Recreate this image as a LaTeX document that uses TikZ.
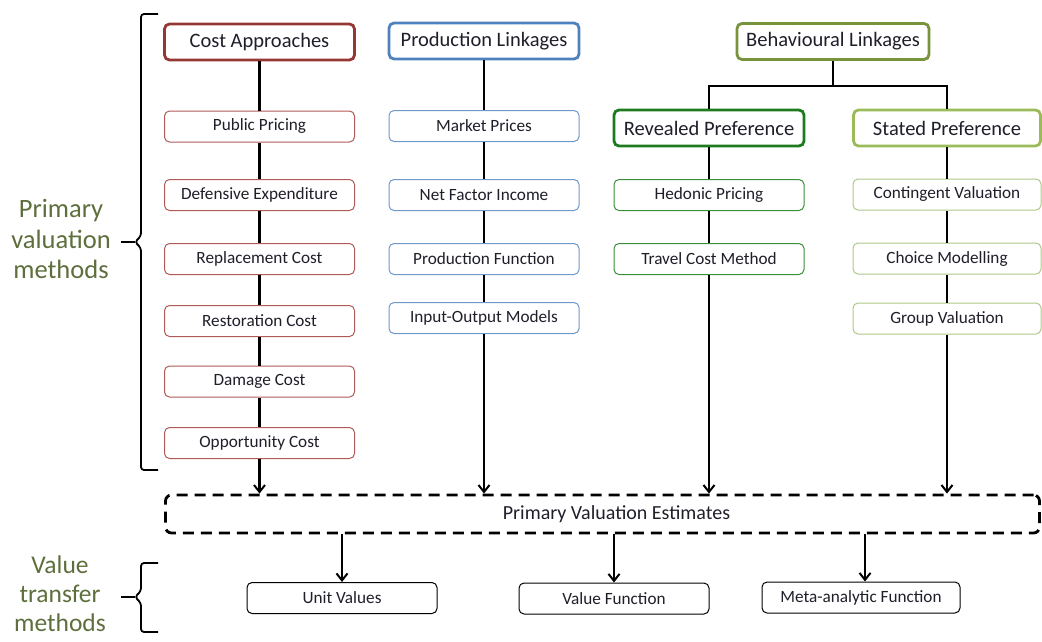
\documentclass[tikz,border=0pt]{standalone}
\usepackage{fontspec}
\setmainfont{Carlito}
\usetikzlibrary{arrows.meta,positioning}
\definecolor{costH}{HTML}{953735}
\definecolor{costS}{HTML}{B25A58}
\definecolor{prodH}{HTML}{4F81BD}
\definecolor{prodS}{HTML}{7098CA}
\definecolor{behH}{HTML}{77933C}
\definecolor{revH}{HTML}{1E7A1E}
\definecolor{revS}{HTML}{3A8F3A}
\definecolor{staH}{HTML}{9BBB59}
\definecolor{staS}{HTML}{AEC889}
\definecolor{txt}{HTML}{1F1F2A}
\definecolor{lbl}{HTML}{5E6E3C}
\tikzset{
  head/.style={draw=#1, line width=2.8pt, rounded corners=5pt, fill=white,
    minimum width=190pt, minimum height=36pt, inner sep=0pt,
    font=\fontsize{20.5}{22}\selectfont, text=txt},
  sub/.style={draw=#1, line width=1pt, rounded corners=5pt, fill=white,
    minimum width=190pt, minimum height=31pt, inner sep=0pt,
    font=\fontsize{17.2}{18}\selectfont, text=txt},
  low/.style={draw=black, line width=1pt, rounded corners=5pt, fill=white,
    minimum width=190pt, minimum height=31pt, inner sep=0pt,
    font=\fontsize{17.2}{18}\selectfont, text=txt},
  conn/.style={line width=2.3pt},
  arr/.style={line width=2.3pt, -{Straight Barb[length=7pt,width=11pt,line width=2pt]}},
  side/.style={text=lbl, align=center, font=\fontsize{26.5}{30.5}\selectfont},
  side2/.style={text=lbl, align=center, font=\fontsize{25.5}{29}\selectfont},
  brace/.style={line width=1.8pt, rounded corners=3pt}
}
\begin{document}
\begin{tikzpicture}[x=1pt,y=-1pt]
\useasboundingbox (0,0) rectangle (1042,641);
% headers
\node[head=costH] (ca) at (259.5,42) {Cost Approaches};
\node[head=prodH] (pl) at (484,41) {Production Linkages};
\node[head=behH, minimum width=192pt] (bl) at (833,41.5) {Behavioural Linkages};
\node[head=revH] (rp) at (709,128) {Revealed Preference};
\node[head=staH, minimum width=187pt] (sp) at (947,128) {Stated Preference};
% cost column
\node[sub=costS] (pp) at (259.5,126.5) {Public Pricing};
\node[sub=costS] (de) at (259.5,195) {Defensive Expenditure};
\node[sub=costS] (rc) at (259.5,259) {Replacement Cost};
\node[sub=costS] (rs) at (259.5,321) {Restoration Cost};
\node[sub=costS] (dc) at (259.5,381.5) {Damage Cost};
\node[sub=costS] (oc) at (259.5,443) {Opportunity Cost};
% production column
\node[sub=prodS] (mp) at (484,126) {Market Prices};
\node[sub=prodS] (nf) at (484,195) {Net Factor Income};
\node[sub=prodS] (pf) at (484,259) {Production Function};
\node[sub=prodS] (io) at (484,318) {Input-Output Models};
% revealed column
\node[sub=revS] (hp) at (709,195) {Hedonic Pricing};
\node[sub=revS] (tc) at (709,259) {Travel Cost Method};
% stated column
\node[sub=staS, minimum width=188pt] (cv) at (947,194.5) {Contingent Valuation};
\node[sub=staS, minimum width=188pt] (cm) at (947,258.5) {Choice Modelling};
\node[sub=staS, minimum width=188pt] (gv) at (947,318.5) {Group Valuation};
% primary estimates
\node[draw=black, line width=2.8pt, dash pattern=on 11pt off 7pt, rounded corners=6pt,
  minimum width=874pt, minimum height=38pt, inner sep=0pt,
  font=\fontsize{20}{22}\selectfont, text=txt] (pve) at (602.5,514) {\hspace*{28pt}Primary Valuation Estimates};
% value transfer
\node[low] (uv) at (342,598) {Unit Values};
\node[low] (vf) at (614,598.5) {Value Function};
\node[low, minimum width=198pt] (ma) at (861,597.5) {Meta-analytic Function};
% connectors cost
\draw[conn] (ca) -- (pp);
\draw[conn] (pp) -- (de);
\draw[conn] (de) -- (rc);
\draw[conn] (rc) -- (rs);
\draw[conn] (rs) -- (dc);
\draw[conn] (dc) -- (oc);
\draw[arr] (oc.south) -- (oc.south |- pve.north);
% production
\draw[conn] (pl) -- (mp);
\draw[conn] (mp) -- (nf);
\draw[conn] (nf) -- (pf);
\draw[conn] (pf) -- (io);
\draw[arr] (io.south) -- (io.south |- pve.north);
% behavioural
\coordinate (bj) at ([yshift=-25pt]bl.south);
\draw[conn] (bl.south) -- (bj);
\draw[conn] (bj) -| (rp.north);
\draw[conn] (bj) -| (sp.north);
\draw[conn] (rp) -- (hp);
\draw[conn] (hp) -- (tc);
\draw[arr] (tc.south) -- (tc.south |- pve.north);
\draw[conn] (sp) -- (cv);
\draw[conn] (cv) -- (cm);
\draw[conn] (cm) -- (gv);
\draw[arr] (gv.south) -- (gv.south |- pve.north);
% lower arrows
\draw[arr] (pve.south -| uv.north) -- (uv.north);
\draw[arr] (pve.south -| vf.north) -- (vf.north);
\draw[arr] ([xshift=4pt]pve.south -| ma.north) -- ([xshift=4pt]ma.north);
% braces
\coordinate (b1t) at (158,14);
\coordinate (b1b) at (158,470);
\coordinate (b1tip) at (121,242);
\draw[brace] (b1t) -- (141,14) -- (141,236) -- (135,242) -- (141,248) -- (141,470) -- (b1b);
\draw[brace] (135,242) -- (b1tip);
\node[side] (pvm) at (61,239) {Primary\\valuation\\methods};
\coordinate (b2t) at (158,563);
\coordinate (b2b) at (158,632);
\coordinate (b2tip) at (121,597);
\draw[brace] (b2t) -- (141,563) -- (141,591) -- (135,597) -- (141,603) -- (141,632) -- (b2b);
\draw[brace] (135,597) -- (b2tip);
\node[side2] (vtm) at (60,594) {Value\\transfer\\methods};
\end{tikzpicture}
\end{document}
